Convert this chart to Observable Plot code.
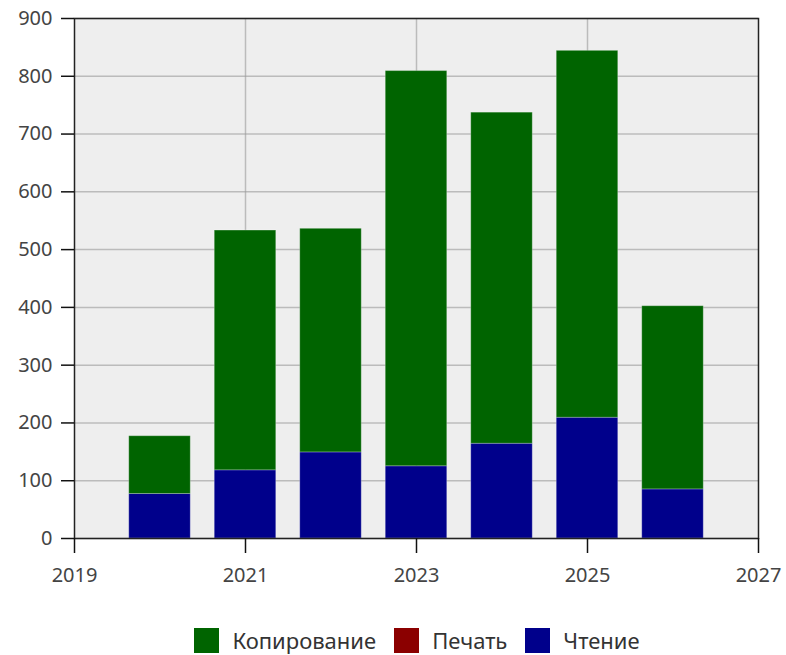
<!DOCTYPE html>
<html>
<head>
<meta charset="utf-8">
<script src="https://cdn.jsdelivr.net/npm/d3@7"></script>
<script src="https://cdn.jsdelivr.net/npm/@observablehq/plot@0.6"></script>
<style>
  html, body { margin: 0; padding: 0; background: white; }
  #chart { width: 786px; }
  .legend { display: flex; justify-content: center; align-items: center; padding-left: 48px; margin-top: 25px;
    font-family: "Noto Sans", sans-serif; font-size: 22px; color: #333; }
  .legend .item { display: flex; align-items: center; margin: 0 9px; }
  .legend .sw { width: 25px; height: 25px; margin-right: 13px; box-sizing: border-box; }
</style>
</head>
<body>
<div id="chart"></div>
<script>
const years = [2020, 2021, 2022, 2023, 2024, 2025, 2026];
const reading = [77, 118, 149, 125, 164, 209, 85];
const printing = [0, 0, 0, 0, 0, 0, 0];
const copying = [100, 415, 387, 684, 573, 635, 317];
const seriesNames = ["Копирование", "Печать", "Чтение"];
const seriesColors = ["#006400", "#8b0000", "#00008b"];
const stackOrder = ["Чтение", "Печать", "Копирование"];
const xTicks = [2019, 2021, 2023, 2025, 2027];
const xGrid = [2021, 2023, 2025];
const yTicks = [0, 100, 200, 300, 400, 500, 600, 700, 800, 900];

const data = [];
years.forEach((year, i) => {
  data.push({year, series: "Чтение", value: reading[i]});
  data.push({year, series: "Печать", value: printing[i]});
  data.push({year, series: "Копирование", value: copying[i]});
});

const stacked = Plot.stackY({x: "year", y: "value", z: "series", order: stackOrder});

const chart = Plot.plot({
  width: 786,
  height: 600,
  marginLeft: 74,
  marginRight: 28,
  marginTop: 18,
  marginBottom: 62,
  style: {fontFamily: "Noto Sans", fontSize: "20px", color: "#444", background: "white"},
  x: {domain: [2019, 2027], label: null},
  y: {domain: [0, 900], label: null},
  color: {domain: seriesNames, range: seriesColors},
  marks: [
    Plot.frame({fill: "#eeeeee", stroke: null}),
    Plot.gridY(yTicks, {stroke: "#999", strokeOpacity: 0.6, strokeWidth: 1.5}),
    Plot.gridX(xGrid, {stroke: "#999", strokeOpacity: 0.6, strokeWidth: 1.5}),
    Plot.rect(data, {
      ...stacked,
      x1: d => d.year - 0.5,
      x2: d => d.year + 0.5,
      insetLeft: 12,
      insetRight: 12,
      fill: "series",
      stroke: "#ffffff",
      strokeOpacity: 0.25,
      strokeWidth: 1
    }),
    Plot.frame({stroke: "#222", strokeWidth: 1.5}),
    Plot.axisY(yTicks, {tickSize: 13, tickPadding: 9, stroke: "#111", strokeWidth: 1.5, fill: "#444", fontSize: 20, tickFormat: d => String(d)}),
    Plot.axisX(xTicks, {tickSize: 15, tickPadding: 14, stroke: "#111", strokeWidth: 1.5, fill: "#444", fontSize: 20, tickFormat: d => String(d)})
  ]
});
document.getElementById("chart").appendChild(chart);

const legend = document.createElement("div");
legend.className = "legend";
seriesNames.forEach((name, i) => {
  const item = document.createElement("div");
  item.className = "item";
  const sw = document.createElement("span");
  sw.className = "sw";
  sw.style.background = seriesColors[i];
  const label = document.createElement("span");
  label.textContent = name;
  item.appendChild(sw);
  item.appendChild(label);
  legend.appendChild(item);
});
document.getElementById("chart").appendChild(legend);
</script>
</body>
</html>
